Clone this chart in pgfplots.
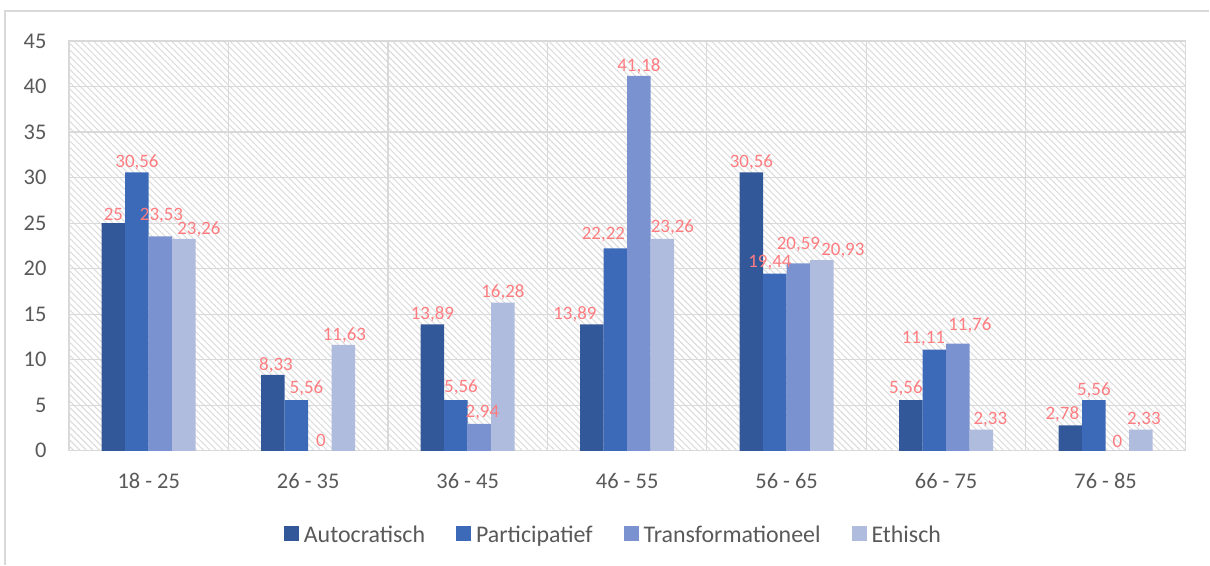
\documentclass[border=0pt]{standalone}
\usepackage{pgfplots}
\usepackage{pgfplotstable}
\pgfplotsset{compat=1.18}
\usetikzlibrary{patterns.meta}
\usepackage{fontspec}
\setmainfont{Carlito}
\definecolor{cA}{HTML}{335899}
\definecolor{cB}{HTML}{3D6AB8}
\definecolor{cC}{HTML}{7A92CF}
\definecolor{cD}{HTML}{B0BCDE}
\definecolor{lbl}{HTML}{FF7C80}
\definecolor{txt}{HTML}{595959}
\definecolor{grd}{HTML}{D9D9D9}
\definecolor{hatch}{HTML}{DDDDDD}
% x = category index, y = value, dx/dy = label nudge (bp)
\pgfplotstableread{
x y dx dy
0 25 0 0
1 8.33 3 0
2 13.89 0 0
3 13.89 -17 0
4 30.56 0 0
5 5.56 -5 2
6 2.78 -8 1
}\tabA
\pgfplotstableread{
x y dx dy
0 30.56 0 0
1 5.56 10 2
2 5.56 5 3
3 22.22 -12 4
4 19.44 -5 2
5 11.11 -11 1
6 5.56 0 0
}\tabB
\pgfplotstableread{
x y dx dy
0 23.53 1 11
1 0 1 2
2 2.94 3 2
3 41.18 0 0
4 20.59 0 9
5 11.76 12 9
6 0 0 1
}\tabC
\pgfplotstableread{
x y dx dy
0 23.26 15 0
1 11.63 1 0
2 16.28 0 0
3 23.26 10 2
4 20.93 21 0
5 2.33 9 0
6 2.33 3 0
}\tabD
\begin{document}
\begin{tikzpicture}[x=1bp,y=1bp]
\path (0,0) rectangle (1210,565);
\draw[grd, line width=1.2bp] (5,0) -- (5,554) -- (1210,554);
\begin{axis}[
  at={(69bp,114bp)}, anchor=south west,
  scale only axis, width=1117bp, height=410bp,
  ybar=0pt, bar width=23.5bp,
  xmin=-0.5, xmax=6.5, ymin=0, ymax=45,
  xtick={0,...,6},
  xticklabels={18 - 25,26 - 35,36 - 45,46 - 55,56 - 65,66 - 75,76 - 85},
  minor xtick={0.5,1.5,...,5.5},
  ytick={0,5,...,45},
  major x tick style={draw=none}, minor x tick style={draw=none},
  ytick style={draw=none},
  xmajorgrids=false, xminorgrids=true, ymajorgrids=true,
  grid style={grd, line width=1.2bp},
  minor grid style={grd, line width=1.2bp},
  axis line style={grd, line width=1.2bp},
  axis background/.style={pattern={Lines[angle=-45,distance=4.6bp,line width=1.1bp]}, pattern color=hatch},
  tick label style={font=\fontsize{22.5}{26}\selectfont, text=txt},
  xticklabel style={yshift=-15bp},
  yticklabel style={xshift=-19bp},
  /pgf/number format/assume math mode=true,
  /pgf/number format/use comma,
  /pgf/number format/fixed,
  /pgf/number format/precision=2,
  nodes near coords,
  visualization depends on={\thisrow{dx} \as \ldx},
  visualization depends on={\thisrow{dy} \as \ldy},
  every node near coord/.append style={font=\fontsize{19}{22}\selectfont, text=lbl, inner sep=2bp, xshift=\ldx bp, yshift=\ldy bp},
  legend columns=4,
  legend style={at={(0.4877,-0.205)}, anchor=center, draw=none, fill=none,
    font=\fontsize{24}{28}\selectfont, text=txt,
    /tikz/every odd column/.append style={column sep=3bp},
    /tikz/every even column/.append style={column sep=29bp}},
  legend image code/.code={\fill[#1] (0bp,-6.5bp) rectangle (15bp,8.5bp);},
]
\addplot[fill=cA, draw=none] table[x=x,y=y] {\tabA};
\addplot[fill=cB, draw=none] table[x=x,y=y] {\tabB};
\addplot[fill=cC, draw=none] table[x=x,y=y] {\tabC};
\addplot[fill=cD, draw=none] table[x=x,y=y] {\tabD};
\legend{Autocratisch,Participatief,Transformationeel,Ethisch}
\end{axis}
\end{tikzpicture}
\end{document}
